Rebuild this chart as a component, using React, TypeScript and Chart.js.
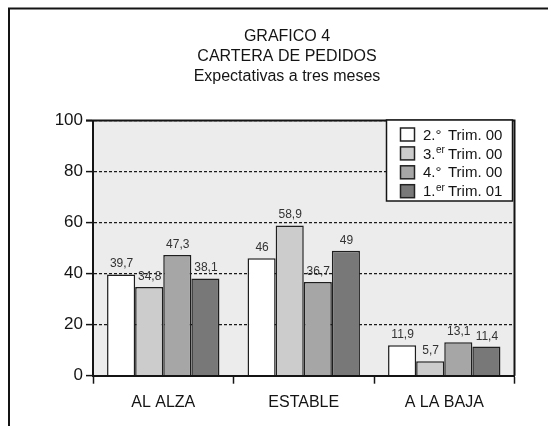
import React, { useEffect, useRef } from 'react';
import { Chart, registerables } from 'chart.js';

Chart.register(...registerables);

const titleLines = ['GRAFICO 4', 'CARTERA DE PEDIDOS', 'Expectativas a tres meses'];
const categories = ['AL ALZA', 'ESTABLE', 'A LA BAJA'];
const trim2_00 = [39.7, 46, 11.9];
const trim3_00 = [34.8, 58.9, 5.7];
const trim4_00 = [47.3, 36.7, 13.1];
const trim1_01 = [38.1, 49, 11.4];
const seriesPrefix = ['2.°', '3.', '4.°', '1.'];
const seriesSup = ['', 'er', '', 'er'];
const seriesSuffix = ['Trim. 00', 'Trim. 00', 'Trim. 00', 'Trim. 01'];
const seriesColors = ['#ffffff', '#cccccc', '#a6a6a6', '#787878'];
const yMin = 0;
const yMax = 100;
const yStep = 20;

const FONT = "'Liberation Sans', Arial, sans-serif";
const INK = '#141414';

const fmt = (v: number) => String(v).replace('.', ',');

const backgroundPlugin = {
  id: 'plotBg',
  beforeDraw(chart: any) {
    const { ctx, chartArea: a } = chart;
    ctx.save();
    ctx.fillStyle = '#ffffff';
    ctx.fillRect(0, 0, chart.width, chart.height);
    ctx.fillStyle = '#ececec';
    ctx.fillRect(a.left, a.top, a.right - a.left, a.bottom - a.top);
    ctx.restore();
  },
};

const valueLabelPlugin = {
  id: 'valueLabels',
  afterDatasetsDraw(chart: any) {
    const { ctx } = chart;
    ctx.save();
    ctx.font = `12px ${FONT}`;
    ctx.fillStyle = '#333333';
    ctx.textAlign = 'center';
    ctx.textBaseline = 'alphabetic';
    chart.data.datasets.forEach((ds: any, di: number) => {
      const meta = chart.getDatasetMeta(di);
      meta.data.forEach((bar: any, i: number) => {
        ctx.fillText(fmt(ds.data[i]), bar.x + 0.5, bar.y - 7);
      });
    });
    ctx.restore();
  },
};

const framePlugin = {
  id: 'frames',
  afterDraw(chart: any) {
    const { ctx, chartArea: a } = chart;
    ctx.save();
    ctx.strokeStyle = INK;
    // outer page frame (top + left)
    ctx.lineWidth = 2;
    ctx.beginPath();
    ctx.moveTo(8, 8.5);
    ctx.lineTo(chart.width, 8.5);
    ctx.moveTo(9, 7.5);
    ctx.lineTo(9, chart.height);
    ctx.stroke();
    // plot frame top + right
    ctx.lineWidth = 2;
    ctx.beginPath();
    ctx.moveTo(a.left - 7, a.top);
    ctx.lineTo(a.right, a.top);
    ctx.moveTo(a.right, a.top - 1);
    ctx.lineTo(a.right, a.bottom);
    ctx.stroke();

    // title
    ctx.fillStyle = INK;
    ctx.font = `16px ${FONT}`;
    ctx.textAlign = 'center';
    ctx.textBaseline = 'alphabetic';
    titleLines.forEach((t, i) => ctx.fillText(t, 287, 41 + i * 20));

    // legend
    const right = a.right - 2;
    const left = right - 126;
    const top = a.top - 0.5;
    const h = 81;
    ctx.fillStyle = '#ffffff';
    ctx.fillRect(left, top, right - left, h);
    ctx.lineWidth = 1.5;
    ctx.strokeStyle = INK;
    ctx.strokeRect(left, top, right - left, h);
    seriesPrefix.forEach((p, i) => {
      const cy = top + 14.5 + i * 18.9;
      ctx.fillStyle = seriesColors[i];
      ctx.fillRect(left + 14, cy - 6.5, 14, 13);
      ctx.lineWidth = 1.5;
      ctx.strokeStyle = '#222222';
      ctx.strokeRect(left + 14, cy - 6.5, 14, 13);
      ctx.fillStyle = INK;
      ctx.textAlign = 'left';
      ctx.textBaseline = 'middle';
      ctx.font = `15px ${FONT}`;
      const x0 = left + 36.5;
      ctx.fillText(p, x0, cy + 1);
      const w = ctx.measureText(p).width;
      if (seriesSup[i]) {
        ctx.font = `10px ${FONT}`;
        ctx.fillText(seriesSup[i], x0 + w + 0.5, cy - 3);
      }
      ctx.font = `15px ${FONT}`;
      ctx.fillText(seriesSuffix[i], left + 61.5, cy + 1);
    });
    ctx.restore();
  },
};

export default function App() {
  const ref = useRef<HTMLCanvasElement | null>(null);

  useEffect(() => {
    if (!ref.current) return;
    const series = [trim2_00, trim3_00, trim4_00, trim1_01];
    const chart = new Chart(ref.current, {
      type: 'bar',
      data: {
        labels: categories,
        datasets: series.map((d, i) => ({
          label: seriesPrefix[i] + seriesSup[i] + ' ' + seriesSuffix[i],
          data: d,
          backgroundColor: seriesColors[i],
          borderColor: '#1e1e1e',
          borderWidth: 1.5,
          categoryPercentage: 0.8,
          barPercentage: 1.0,
        })),
      },
      options: {
        responsive: false,
        animation: false,
        devicePixelRatio: 1,
        layout: { padding: { left: 0, top: 120.5, right: 33.5, bottom: 10.3 } },
        plugins: {
          legend: { display: false },
          title: { display: false },
          tooltip: { enabled: false },
        },
        scales: {
          x: {
            grid: {
              display: true,
              drawOnChartArea: false,
              drawTicks: true,
              tickLength: 8,
              tickColor: INK,
              tickWidth: 1.5,
              offset: true,
            },
            border: { display: true, color: INK, width: 2 },
            ticks: { color: INK, font: { family: FONT, size: 16 }, padding: 9 },
            afterFit: (s: any) => {
              s.height = 40;
            },
          },
          y: {
            min: yMin,
            max: yMax,
            ticks: { stepSize: yStep, color: INK, font: { family: FONT, size: 17 }, padding: 3 },
            grid: {
              color: '#1a1a1a',
              lineWidth: 1.2,
              tickLength: 7,
              tickColor: INK,
              tickWidth: 1.5,
            },
            border: { display: true, color: INK, width: 2, dash: [3, 2] },
            afterFit: (s: any) => {
              s.width = 93;
            },
          },
        },
      } as any,
      plugins: [backgroundPlugin, valueLabelPlugin, framePlugin],
    });
    return () => chart.destroy();
  }, []);

  return (
    <div style={{ position: 'fixed', left: 0, top: 0, width: 548, height: 426, background: '#fff' }}>
      <canvas ref={ref} width={548} height={426} style={{ display: 'block', width: 548, height: 426 }} />
    </div>
  );
}
